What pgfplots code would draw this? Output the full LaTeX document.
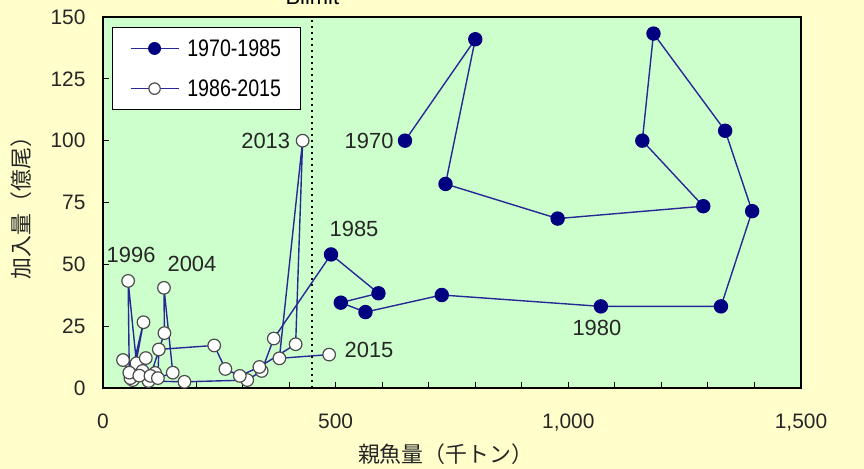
\documentclass[border=0pt]{standalone}
\usepackage{pgfplots}
\pgfplotsset{compat=1.18}
\usepackage{fontspec}
\usepackage{graphicx}
\setmainfont{Liberation Sans}
\newfontfamily\cjk{Noto Sans CJK JP}
\definecolor{bgyellow}{RGB}{255,255,204}
\definecolor{plotgreen}{RGB}{204,255,204}
\definecolor{navy}{RGB}{0,0,128}
\definecolor{linecol}{RGB}{40,40,150}
\begin{document}
\begin{tikzpicture}
\fill[bgyellow] (0,0) rectangle (864bp,469bp);
\begin{axis}[
  at={(103bp,81bp)}, anchor=south west,
  scale only axis, width=698bp, height=371bp,
  xmin=0, xmax=1500, ymin=0, ymax=150,
  clip=false,
  axis background/.style={fill=plotgreen},
  axis line style={black, line width=1.2bp},
  xtick={0,500,1000,1500}, minor xtick={100,200,...,1400},
  xticklabels={0,500,{1,000},{1,500}},
  scaled x ticks=false, scaled y ticks=false,
  ytick={0,25,50,75,100,125,150},
  yticklabels={0,25,50,75,100,125,150},
  tick align=inside, major tick length=6bp, minor tick length=6bp,
  tick style={black, line width=1bp},
  xtick pos=bottom, ytick pos=left,
  /pgf/number format/assume math mode=true,
  ticklabel style={font=\fontsize{21}{24}\selectfont, text=black!85},
  xticklabel style={yshift=-22bp},
  yticklabel style={xshift=-14bp},
  legend style={at={(axis cs:20,146)}, anchor=north west, draw=black, line width=1bp, fill=white,
    font=\fontsize{24}{26}\selectfont, inner xsep=17bp, inner ysep=10bp, row sep=18bp,
    /tikz/every odd column/.append style={column sep=6bp}},
  legend cell align=left,
  legend image code/.code={\draw[line width=1.5bp, mark repeat=2, mark phase=2, mark size=5.7bp] plot coordinates {(0bp,0bp) (24bp,0bp) (48bp,0bp)};},
]
% connector 1985 -> 1986
\addplot[linecol, line width=1.4bp, forget plot] coordinates {(490,54) (367,20)};

\addplot[linecol, line width=1.4bp, mark=*, mark size=6.5bp,
  mark options={fill=navy, draw=navy}] coordinates {
  (649,100) (800,141) (736,82.5) (977,68.5) (1290,73.5) (1159,100)
  (1183,143.3) (1337,104) (1395,71.5) (1328,33) (1070,33) (728,37.6)
  (564,30.7) (511,34.5) (592,38.3) (490,54)
};
\addlegendentry{\scalebox{0.82}[1]{1970-1985}}

\addplot[linecol, line width=1.4bp, mark=*, mark size=6.3bp,
  mark options={fill=white, draw=black!70, line width=1.2bp}] coordinates {
  (367,20) (341,6.9) (310,3.2) (175,2.5) (98,2.8) (64,3.2) (87,26.6)
  (59,4) (43,11.3) (72,10) (54,43.3) (56.5,6.2) (85,6.9) (92,12.1)
  (78,5) (112,6.1) (102,4.9) (132,22.2) (131,40.5) (150,6.2) (118,4)
  (120,15.6) (239,17.2) (263,7.7) (294,4.9) (336,8.5) (414,17.7)
  (429,100) (379,12) (486,13.5)
};
\addlegendentry{\scalebox{0.82}[1]{1986-2015}}

% Blimit
\draw[black, line width=2bp, dash pattern=on 2bp off 4bp] (axis cs:450,0) -- (axis cs:450,150);
\node[anchor=base, font=\fontsize{22}{24}\selectfont] at (axis cs:450,150) [yshift=12bp] {Blimit};

% year labels
\begin{scope}[every node/.style={font=\fontsize{22}{24}\selectfont, text=black!85}]
\node[anchor=east] at (axis cs:649,100) [xshift=-8bp] {1970};
\node at (axis cs:490,54) [xshift=23bp, yshift=25bp] {1985};
\node at (axis cs:1070,33) [xshift=-4bp, yshift=-22bp] {1980};
\node[anchor=east] at (axis cs:429,100) [xshift=-9bp] {2013};
\node[anchor=west] at (axis cs:486,13.5) [xshift=12bp, yshift=5bp] {2015};
\node at (axis cs:54,43.3) [xshift=3bp, yshift=26bp] {1996};
\node at (axis cs:131,40.5) [xshift=28bp, yshift=24bp] {2004};
\end{scope}

% axis labels
\node[xshift=-82bp, rotate=90, font=\cjk\fontsize{22}{24}\selectfont, text=black!85] at (rel axis cs:0,0.5) {加入量（億尾）};
\node[font=\cjk\fontsize{22}{24}\selectfont, text=black!85] at (rel axis cs:0.491,0) [yshift=-66bp] {親魚量（千トン）};
\end{axis}
\pgfresetboundingbox
\useasboundingbox (0,0) rectangle (864bp,469bp);
\end{tikzpicture}
\end{document}
